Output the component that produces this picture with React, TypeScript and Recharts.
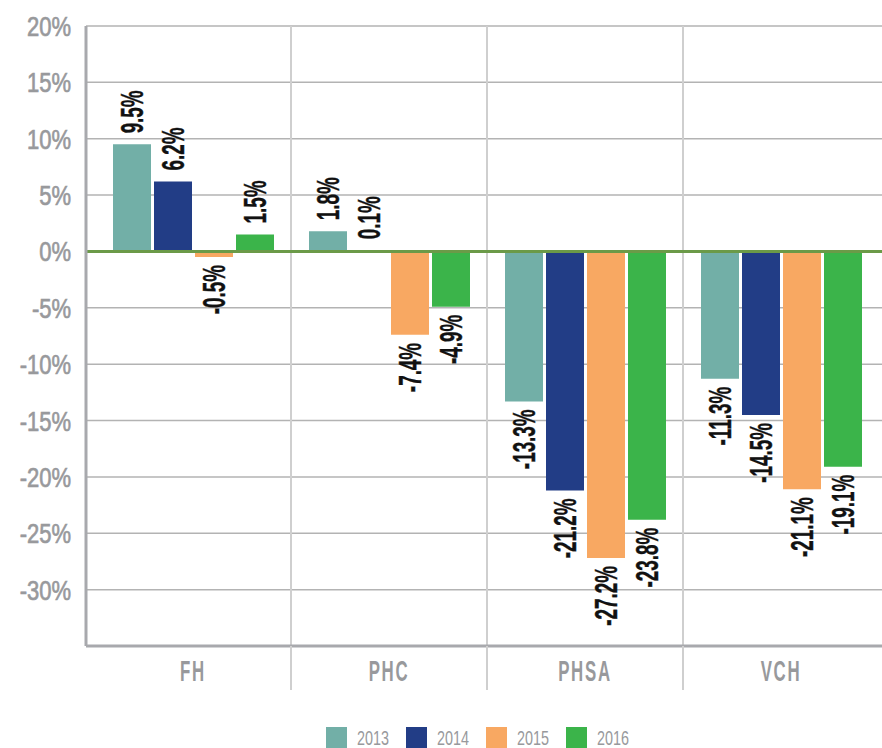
import { Bar, BarChart, CartesianGrid, LabelList, ReferenceLine, XAxis, YAxis } from "recharts";

const CATEGORIES = ["FH", "PHC", "PHSA", "VCH"];
const YEARS = ["2013", "2014", "2015", "2016"];
const VALUES_2013 = [9.5, 1.8, -13.3, -11.3];
const VALUES_2014 = [6.2, 0.1, -21.2, -14.5];
const VALUES_2015 = [-0.5, -7.4, -27.2, -21.1];
const VALUES_2016 = [1.5, -4.9, -23.8, -19.1];
const Y_TICKS = [20, 15, 10, 5, 0, -5, -10, -15, -20, -25, -30];
const COLORS = ["#72afa7", "#223d86", "#f8a862", "#3bb44a"];

const SERIES = [VALUES_2013, VALUES_2014, VALUES_2015, VALUES_2016];
const data = CATEGORIES.map((name, i) => {
  const row: Record<string, string | number> = { name };
  YEARS.forEach((y, s) => (row[y] = SERIES[s][i]));
  return row;
});

// layout
const WIDTH = 882;
const HEIGHT = 748;
const Y_AXIS_W = 86;
const TOP = 26;
const X_AXIS_H = 44;
const BOTTOM = 58;
const PAD_L = 9;
const PAD_R = 3;
const BAND = (WIDTH - Y_AXIS_W - PAD_L - PAD_R) / CATEGORIES.length;

// no condensed face available, so squeeze Liberation Sans with transforms
const FONT = "'Liberation Sans', Arial, sans-serif";
const GREY_TEXT = "#98999c";

function ValueLabel(props: any) {
  const { x, y, width, height, value } = props;
  const top = Math.min(y, y + height);
  const bottom = Math.max(y, y + height);
  const cx = x + width / 2 + 10.9;
  const neg = value < 0;
  const ay = neg ? bottom + 8 : top - 11;
  return (
    <text
      transform={`translate(${cx},${ay}) rotate(-90) scale(0.82,1.33)`}
      textAnchor={neg ? "end" : "start"}
      fontFamily={FONT}
      fontWeight="bold"
      fontSize={23}
      fill="#111"
      stroke="#111"
      strokeWidth={0.3}
    >
      {`${value.toFixed(1)}%`}
    </text>
  );
}

function CategoryTick(props: any) {
  const { x, y, payload, index } = props;
  const edge = x - BAND / 2;
  return (
    <g>
      {index > 0 && <line x1={edge} x2={edge} y1={y} y2={y + X_AXIS_H} stroke="#cfcfcf" strokeWidth={2} />}
      <text
        transform={`translate(${x},${y + 35}) scale(0.58,1)`}
        textAnchor="middle"
        fontFamily={FONT}
        fontWeight="bold"
        fontSize={29}
        letterSpacing={3}
        fill={GREY_TEXT}
      >
        {payload.value}
      </text>
    </g>
  );
}

function PercentTick(props: any) {
  const { x, y, payload } = props;
  return (
    <text
      transform={`translate(${x},${y + 10}) scale(0.786,1)`}
      textAnchor="end"
      fontFamily={FONT}
      fontSize={28}
      fill={GREY_TEXT}
      stroke={GREY_TEXT}
      strokeWidth={0.7}
    >
      {`${payload.value}%`}
    </text>
  );
}

export default function App() {
  return (
    <div style={{ position: "relative", width: WIDTH, height: HEIGHT, background: "#fff", overflow: "hidden" }}>
      <style>{`body{margin:0}`}</style>
      <BarChart
        width={WIDTH}
        height={HEIGHT}
        data={data}
        margin={{ top: TOP, right: 0, left: 0, bottom: BOTTOM }}
        barSize={38}
        barGap={3}
      >
        <CartesianGrid vertical={false} stroke="#b3b3b3" strokeWidth={1.5} />
        <CartesianGrid
          horizontal={false}
          stroke="#cfcfcf"
          strokeWidth={2}
          verticalCoordinatesGenerator={({ offset }: any) =>
            CATEGORIES.slice(1).map((_, i) => offset.left + PAD_L + (i + 1) * BAND)
          }
        />
        <XAxis
          dataKey="name"
          height={X_AXIS_H}
          padding={{ left: PAD_L, right: PAD_R }}
          tickLine={false}
          tickSize={0}
          tickMargin={0}
          axisLine={{ stroke: "#a8a9ad", strokeWidth: 3 }}
          tick={<CategoryTick />}
          interval={0}
        />
        <YAxis
          width={Y_AXIS_W}
          domain={[-35, 20]}
          ticks={Y_TICKS}
          tickLine={false}
          tickSize={0}
          tickMargin={15}
          axisLine={{ stroke: "#a8a9ad", strokeWidth: 3 }}
          tick={<PercentTick />}
        />
        <ReferenceLine y={0} stroke="#6b9a48" strokeWidth={3} />
        {YEARS.map((year, i) => (
          <Bar key={year} dataKey={year} fill={COLORS[i]} isAnimationActive={false}>
            <LabelList dataKey={year} content={<ValueLabel />} />
          </Bar>
        ))}
      </BarChart>
      <div
        style={{
          position: "absolute",
          top: 727,
          left: 326,
          display: "flex",
          alignItems: "center",
          fontFamily: FONT,
          fontSize: 21,
          color: GREY_TEXT,
        }}
      >
        {YEARS.map((year, i) => (
          <div key={year} style={{ display: "flex", alignItems: "center", width: 80 }}>
            <span style={{ width: 21, height: 21, background: COLORS[i], display: "inline-block", marginRight: 10 }} />
            <span
              style={{
                display: "inline-block",
                width: 32,
                lineHeight: "21px",
                whiteSpace: "nowrap",
                transform: "scale(0.685,1)",
                transformOrigin: "left center",
              }}
            >
              {year}
            </span>
          </div>
        ))}
      </div>
    </div>
  );
}
